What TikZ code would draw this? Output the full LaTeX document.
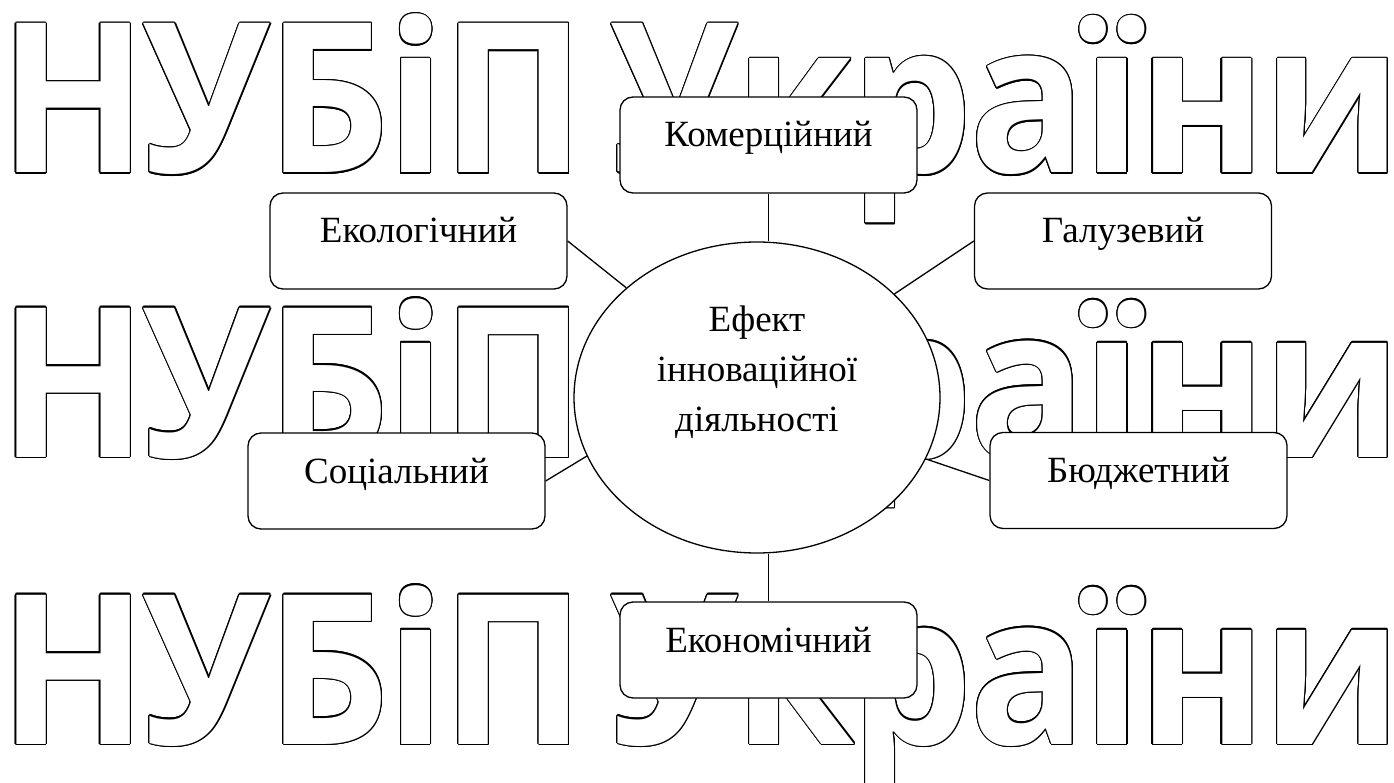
\documentclass[tikz,border=0pt]{standalone}
\usepackage{fontspec}
\usepackage{graphicx}
\setmainfont{Liberation Serif}
\newfontfamily\wmfont[LetterSpace=-2]{Open Sans}
\usetikzlibrary{shapes.geometric}
\newcommand\wmtxt{\resizebox{1403pt}{\height}{НУБіП\hspace{28pt}України}}
\begin{document}
\begin{tikzpicture}[x=1pt,y=-1pt,
  wm/.style={anchor=base west,inner sep=0pt,font=\wmfont\bfseries\fontsize{209}{209}\selectfont},
  dbox/.style={draw,fill=white,line width=1.3pt,rounded corners=13pt,minimum width=297pt,minimum height=96pt,inner sep=0pt,text height=50pt,text depth=46pt,font=\fontsize{37}{40}\selectfont},
  conn/.style={line width=1.3pt}]
\fill[white] (0,0) rectangle (1394,783);
\useasboundingbox (0,0) rectangle (1394,783);
% watermark
\foreach \r [count=\i] in {173,457,744}{
  \foreach \a [count=\j] in {0,22.5,...,337.5}
    \node[wm,text=black] (wm\i-\j) at ([shift={(\a:1.2pt)}]-1,\r) {\wmtxt};
  \node[wm,text=white] (wm\i) at (-1,\r) {\wmtxt};
}
% boxes
\node[dbox] (kom) at (768.5,145) {Комерційний};
\node[dbox] (eco) at (418.5,241) {Екологічний};
\node[dbox] (gal) at (1123,241) {Галузевий};
\node[dbox] (soc) at (396.5,481) {Соціальний};
\node[dbox] (bud) at (1138.5,480.5) {Бюджетний};
\node[dbox] (ekn) at (768.5,650) {Економічний};
\node[ellipse,draw,fill=white,line width=1.3pt,minimum width=366pt,minimum height=311pt,inner sep=0pt] (ell) at (757,397.5) {};
\node[align=center,font=\fontsize{37}{50}\selectfont,inner sep=0pt] (etx) at (757,372) {Ефект\\інноваційної\\діяльності};
% connectors
\draw[conn] (kom.south) -- (kom.south |- ell.north);
\draw[conn] (eco.east) -- (ell.140);
\draw[conn] (gal.west) -- (ell.37);
\draw[conn] (soc.east) -- (ell.199);
\draw[conn] (bud.west) -- (ell.340);
\draw[conn] (ell.south -| ekn.north) -- (ekn.north);
\end{tikzpicture}
\end{document}
